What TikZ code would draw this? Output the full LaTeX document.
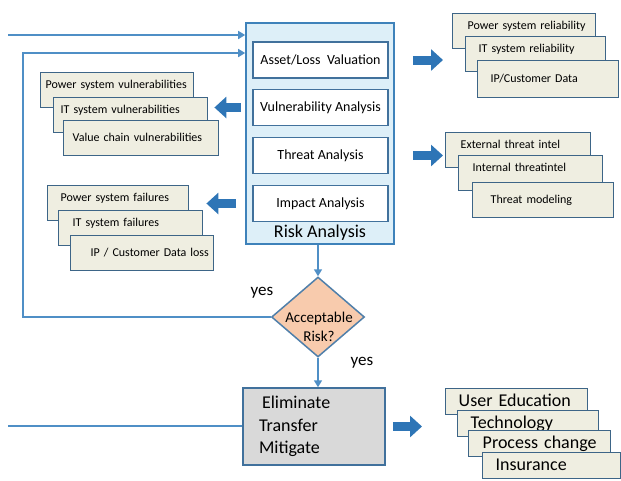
\documentclass[tikz,border=0pt]{standalone}
\usepackage{fontspec}
\setmainfont{Carlito}
\usepackage{tikz}
\usetikzlibrary{shapes.geometric,arrows.meta}
\definecolor{flowblue}{HTML}{4F8FC6}
\definecolor{riskfill}{HTML}{DDEFF8}
\definecolor{riskedge}{HTML}{3E82BA}
\definecolor{taskedge}{HTML}{41719C}
\definecolor{stackfill}{HTML}{EFEEE1}
\definecolor{stackedge}{HTML}{3D6587}
\definecolor{diafill}{HTML}{F8CBAD}
\definecolor{diaedge}{HTML}{4F7FAA}
\definecolor{fatblue}{HTML}{2E75B6}
\definecolor{actfill}{HTML}{D9D9D9}

\begin{document}
\begin{tikzpicture}[x=1pt,y=-1pt,
  flow/.style={draw=flowblue,line width=1.6pt},
  flowarr/.style={flow,-{Triangle[length=7pt,width=8pt]}},
  fat/.style={draw=fatblue,line width=9pt,-{Triangle[length=12pt,width=21pt]}},
  riskbox/.style={draw=riskedge,line width=1.6pt,fill=riskfill},
  task/.style={draw=taskedge,line width=1.4pt,fill=white,minimum width=135pt,minimum height=36pt,font=\fontsize{14}{16}\selectfont},
  stack/.style={draw=stackedge,line width=1.4pt,fill=stackfill,anchor=north west,align=left,inner ysep=7pt,text height=9pt,text depth=12pt,font=\fontsize{12}{14}\selectfont},
  stacklast/.style={stack,text depth=3pt,minimum height=35pt},
  mit/.style={stack,inner ysep=5pt,text height=12.5pt,text depth=3.5pt,font=\fontsize{18}{20}\selectfont},
  big/.style={font=\fontsize{18}{22.5}\selectfont}]
\useasboundingbox (0,0) rectangle (621,480);

% risk analysis block
\node[riskbox,minimum width=148pt,minimum height=221pt] (risk) at (320,133.5) {};
\node[task] (asset) at (320.5,60) {Asset/Loss\ \ Valuation};
\node[task] (vuln) at (320.5,107.5) {Vulnerability Analysis};
\node[task] (threat) at (320.5,155.5) {Threat Analysis};
\node[task] (impact) at (320.5,203.5) {Impact Analysis};
\node[big] (risklbl) at (320,233) {Risk Analysis};

% vulnerabilities
\node[stack,inner xsep=5pt,text width=143pt] (v1) at (40,72) {\mbox{Power system vulnerabilities}};
\node[stack,inner xsep=7pt,text width=140pt] (v2) at (53,97) {\mbox{IT system vulnerabilities}};
\node[stacklast,inner xsep=9pt,text width=137pt] (v3) at (63,120) {\mbox{Value chain vulnerabilities}};

% failures
\node[stack,inner xsep=13pt,text width=115pt] (f1) at (47,185) {\mbox{Power system failures}};
\node[stack,inner xsep=14pt,text width=116pt] (f2) at (58,210) {\mbox{IT system failures}};
\node[stacklast,inner xsep=20pt,text width=103pt] (f3) at (70,235) {\mbox{IP / Customer Data loss}};

% reliability
\node[stack,inner xsep=15pt,text width=113pt] (r1) at (452,13) {\mbox{Power system reliability}};
\node[stack,inner xsep=13pt,text width=114pt] (r2) at (465,36) {\mbox{IT system reliability}};
\node[stacklast,inner xsep=13pt,text width=115pt,minimum height=37pt] (r3) at (477,60) {\mbox{IP/Customer Data}};

% threat intel
\node[stack,inner xsep=15pt,text width=115pt] (t1) at (445,132) {\mbox{External threat intel}};
\node[stack,inner xsep=14pt,text width=116pt] (t2) at (458,155) {\mbox{Internal threatintel}};
\node[stacklast,inner xsep=18pt,text width=105pt] (t3) at (472,182) {\mbox{Threat modeling}};

% decision and treatment
\node[diamond,draw=diaedge,line width=1.5pt,fill=diafill,minimum width=93pt,minimum height=80pt,inner sep=0pt] (dia) at (318,317) {};
\node[font=\fontsize{15}{19}\selectfont,align=center] (diatext) at (319,327) {Acceptable\\Risk?};
\node[font=\fontsize{17}{20}\selectfont] (yesloop) at (262,293) {yes};
\node[font=\fontsize{17}{20}\selectfont] (yesdown) at (362,363) {yes};
\node[draw=taskedge,line width=1.5pt,fill=actfill,minimum height=77pt,align=left,text width=110pt,inner xsep=16pt,big] (elim) at (314,426.5) {\hspace*{3pt}Eliminate\\Transfer\\Mitigate};

% mitigation options
\node[mit,inner xsep=13pt,text width=116pt] (m1) at (445,388) {\mbox{User Education}};
\node[mit,inner xsep=13pt,text width=115pt] (m2) at (457,410) {\mbox{Technology}};
\node[mit,inner xsep=14pt,text width=114pt] (m3) at (468,430) {\mbox{Process change}};
\node[mit,inner xsep=13pt,text width=112pt] (m4) at (482,452) {\mbox{Insurance}};

% thin connectors
\coordinate (inA) at (8,35);
\coordinate (inB) at (8,426);
\coordinate (loop) at (23,53);
\draw[flowarr] (inA) -- (inA -| risk.west);
\draw[flowarr] (dia.west) -| (loop) -- (loop -| risk.west);
\draw[flow] (inB) -- (inB -| elim.west);
\draw[flowarr] (risk.south -| dia.north) -- (dia.north);
\draw[flowarr] (dia.south) -- (dia.south |- elim.north);

% block arrows
\draw[fat,shorten <=18pt,shorten >=9pt] (asset.east -| risk.east) -- (asset.east -| r1.west);
\draw[fat,shorten <=18pt,shorten >=2pt] (threat.east -| risk.east) -- (threat.east -| t1.west);
\draw[fat,shorten <=4pt,shorten >=6pt] (vuln.west -| risk.west) -- (vuln.west -| v2.east);
\draw[fat,shorten <=9pt,shorten >=3pt] (impact.west -| risk.west) -- (impact.west -| f2.east);
\draw[fat,shorten <=7pt,shorten >=23pt] (elim.east) -- (elim.east -| m1.west);
\end{tikzpicture}
\end{document}
